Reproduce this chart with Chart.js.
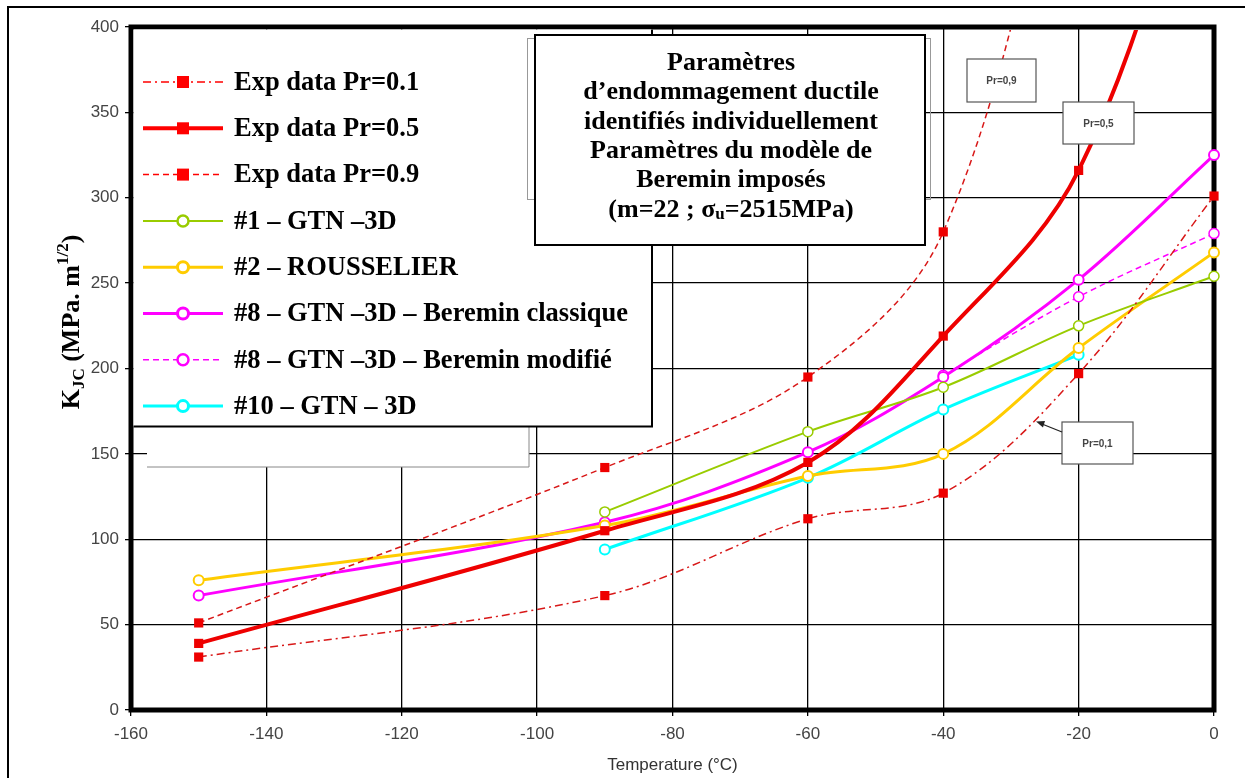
<!DOCTYPE html>
<html>
<head>
<meta charset="utf-8">
<script src="https://cdn.jsdelivr.net/npm/chart.js@4.4.1/dist/chart.umd.min.js"></script>
<style>
html, body { margin: 0; padding: 0; background: #fff; }
#wrap { position: relative; width: 1245px; height: 778px; }
</style>
</head>
<body>
<div id="wrap"><canvas id="kjc" width="1245" height="778"></canvas></div>
<script>
// temperatures (°C) where the curves have points
const temps = [-150, -90, -60, -40, -20, 0];

// K_JC values (MPa.m^1/2), null = no point; values > 400 continue the curve past the top
const expPr01 = [31, 67, 112, 127, 197, 301];
const expPr05 = [39, 105, 145, 219, 316, 540];
const expPr09 = [51, 142, 195, 280, 560, null];
const gtn1 = [null, 116, 163, 189, 225, 254];
const rousselier = [76, 108, 137, 150, 212, 268];
const bereminClassique = [67, 110, 151, 195, 252, 325];
const bereminModifie = [null, null, null, 196, 242, 279];
const gtn10 = [null, 94, 136, 176, 208, null];

const yTicks = [0, 50, 100, 150, 200, 250, 300, 350, 400];
const xTicks = [-160, -140, -120, -100, -80, -60, -40, -20, 0];

const serif = '"Liberation Serif", "Times New Roman", serif';
const sans = '"Liberation Sans", Arial, sans-serif';

function pts(vals) {
	let out = [];
	for (let i = 0; i < temps.length; i++) {
		if (vals[i] !== null) out.push({x: temps[i], y: vals[i]});
	}
	return out;
}

function series(label, vals, s) {
	return {
		label: label,
		data: pts(vals),
		borderColor: s.color,
		borderWidth: s.width,
		borderDash: s.dash || [],
		tension: 0.35,
		pointStyle: s.style,
		pointRadius: ctx => (ctx.raw && ctx.raw.y > 400 ? 0 : s.radius),
		pointBorderWidth: s.pbw,
		pointBackgroundColor: s.fill,
		pointBorderColor: s.pcolor || s.color,
		legendColor: s.lcolor || s.color,
		clip: {left: 12, right: 12, bottom: 12, top: -3}
	};
}

const datasets = [
	series('Exp data Pr=0.1', expPr01, {color: '#d81818', lcolor: '#ff0000', width: 1.5, dash: [8, 4, 2, 4], style: 'rect', radius: 6.5, pbw: 0, fill: '#ee0000', pcolor: '#ee0000'}),
	series('Exp data Pr=0.5', expPr05, {color: '#ee0000', lcolor: '#ff0000', width: 4, style: 'rect', radius: 6.5, pbw: 0, fill: '#ee0000', pcolor: '#ee0000'}),
	series('Exp data Pr=0.9', expPr09, {color: '#d81818', lcolor: '#ff0000', width: 1.5, dash: [6, 4], style: 'rect', radius: 6.5, pbw: 0, fill: '#ee0000', pcolor: '#ee0000'}),
	series('#1 – GTN –3D', gtn1, {color: '#99cc00', width: 2, style: 'circle', radius: 5, pbw: 1.5, fill: '#fff'}),
	series('#2 – ROUSSELIER', rousselier, {color: '#ffcc00', width: 3, style: 'circle', radius: 5, pbw: 2, fill: '#fff'}),
	series('#8 – GTN –3D – Beremin classique', bereminClassique, {color: '#ff00ff', width: 3, style: 'circle', radius: 5, pbw: 2, fill: '#fff'}),
	series('#8 – GTN –3D – Beremin modifié', bereminModifie, {color: '#ff00ff', width: 1.5, dash: [6, 4], style: 'circle', radius: 5, pbw: 1.5, fill: '#fff'}),
	series('#10 – GTN – 3D', gtn10, {color: '#00ffff', width: 3, style: 'circle', radius: 5, pbw: 2, fill: '#fff'})
];

// text pieces: [text, size, baseline shift]
function drawRich(ctx, parts, x, y, align) {
	let total = 0;
	parts.forEach(p => { ctx.font = 'bold ' + p[1] + 'px ' + serif; total += ctx.measureText(p[0]).width; });
	let cx = align === 'center' ? x - total / 2 : x;
	ctx.textAlign = 'left';
	parts.forEach(p => {
		ctx.font = 'bold ' + p[1] + 'px ' + serif;
		ctx.fillText(p[0], cx, y + p[2]);
		cx += ctx.measureText(p[0]).width;
	});
}

function prBox(ctx, x, y, w, h, txt) {
	ctx.fillStyle = '#fff';
	ctx.fillRect(x, y, w, h);
	ctx.strokeStyle = '#555';
	ctx.lineWidth = 1.2;
	ctx.strokeRect(x, y, w, h);
	ctx.fillStyle = '#444';
	ctx.font = 'bold 10px ' + sans;
	ctx.textAlign = 'center';
	ctx.textBaseline = 'middle';
	ctx.fillText(txt, x + w / 2, y + h / 2 + 1);
}

const frame = {
	id: 'frame',
	beforeDatasetsDraw(chart) {
		const {ctx, chartArea: a} = chart;
		ctx.save();
		ctx.strokeStyle = '#000';
		ctx.lineWidth = 5;
		ctx.strokeRect(a.left, a.top, a.right - a.left, a.bottom - a.top);
		ctx.restore();
	},
	afterDatasetsDraw(chart) {
		const ctx = chart.ctx;
		ctx.save();
		// box left behind the legend
		ctx.fillStyle = '#fff';
		ctx.fillRect(147, 40, 382, 427);
		ctx.strokeStyle = '#888';
		ctx.lineWidth = 1;
		ctx.beginPath();
		ctx.moveTo(529, 40); ctx.lineTo(529, 467); ctx.lineTo(147, 467);
		ctx.stroke();

		// legend
		ctx.fillStyle = '#fff';
		ctx.fillRect(133.5, 29.5, 519, 397);
		ctx.strokeStyle = '#000';
		ctx.lineWidth = 2;
		ctx.beginPath();
		ctx.moveTo(133.5, 426.5); ctx.lineTo(652, 426.5); ctx.lineTo(652, 29.5);
		ctx.stroke();
		chart.data.datasets.forEach((d, i) => {
			const y = 82 + i * 46.3;
			ctx.save();
			ctx.strokeStyle = d.legendColor;
			ctx.lineWidth = d.borderWidth;
			ctx.setLineDash(d.borderDash);
			ctx.beginPath();
			ctx.moveTo(143, y); ctx.lineTo(223, y);
			ctx.stroke();
			ctx.setLineDash([]);
			if (d.pointStyle === 'rect') {
				ctx.fillStyle = '#ff0000';
				ctx.fillRect(177, y - 6, 12, 12);
			} else {
				ctx.fillStyle = '#fff';
				ctx.strokeStyle = d.legendColor;
				ctx.lineWidth = d.pointBorderWidth + 1;
				ctx.beginPath();
				ctx.arc(183, y, 5.5, 0, Math.PI * 2);
				ctx.fill();
				ctx.stroke();
			}
			ctx.restore();
			ctx.fillStyle = '#000';
			ctx.font = 'bold 26.5px ' + serif;
			ctx.textAlign = 'left';
			ctx.textBaseline = 'middle';
			ctx.fillText(d.label, 234, y + 1);
		});

		// box behind the text box
		ctx.strokeStyle = '#999';
		ctx.lineWidth = 1;
		ctx.strokeRect(527.5, 38.5, 403, 161);
		// text box
		ctx.fillStyle = '#fff';
		ctx.fillRect(535, 35, 390, 210);
		ctx.strokeStyle = '#000';
		ctx.lineWidth = 2;
		ctx.strokeRect(535, 35, 390, 210);
		ctx.fillStyle = '#000';
		ctx.textBaseline = 'middle';
		const lines = ['Paramètres', 'd’endommagement ductile', 'identifiés individuellement', 'Paramètres du modèle de', 'Beremin imposés'];
		lines.forEach((t, i) => drawRich(ctx, [[t, 26, 0]], 731, 63 + i * 29.4, 'center'));
		drawRich(ctx, [['(m=22 ; σ', 26, 0], ['u', 17, 5], ['=2515MPa)', 26, 0]], 731, 63 + 5 * 29.4, 'center');

		// probability labels
		prBox(ctx, 967, 59, 69, 43, 'Pr=0,9');
		prBox(ctx, 1063, 102, 71, 42, 'Pr=0,5');
		prBox(ctx, 1062, 422, 71, 42, 'Pr=0,1');
		ctx.strokeStyle = '#222';
		ctx.fillStyle = '#222';
		ctx.lineWidth = 1.2;
		ctx.beginPath();
		ctx.moveTo(1062, 432); ctx.lineTo(1042, 424);
		ctx.stroke();
		ctx.beginPath();
		ctx.moveTo(1036, 421.5); ctx.lineTo(1045, 421); ctx.lineTo(1043, 427.5);
		ctx.closePath();
		ctx.fill();
		ctx.restore();
	},
	afterDraw(chart) {
		const ctx = chart.ctx;
		ctx.save();
		// outer page frame
		ctx.strokeStyle = '#000';
		ctx.lineWidth = 2;
		ctx.beginPath();
		ctx.moveTo(8, 778); ctx.lineTo(8, 7); ctx.lineTo(1245, 7);
		ctx.stroke();
		// y axis title with sub/superscript
		ctx.translate(79, 322);
		ctx.rotate(-Math.PI / 2);
		ctx.fillStyle = '#000';
		ctx.textBaseline = 'alphabetic';
		drawRich(ctx, [['K', 26, 0], ['JC', 17, 5], [' (MPa. m', 26, 0], ['1/2', 17, -11], [')', 26, 0]], 0, 0, 'center');
		ctx.restore();
	}
};

new Chart(document.getElementById('kjc'), {
	type: 'line',
	data: {datasets: datasets},
	options: {
		responsive: false,
		animation: false,
		devicePixelRatio: 1,
		layout: {padding: {left: 0, top: 27, right: 31, bottom: 0}},
		plugins: {legend: {display: false}, tooltip: {enabled: false}},
		scales: {
			x: {
				type: 'linear',
				min: -160,
				max: 0,
				afterBuildTicks: s => { s.ticks = xTicks.map(v => ({value: v})); },
				afterFit: s => { s.height = 68; },
				border: {display: false},
				grid: {color: '#000', lineWidth: 1.3, tickLength: 6},
				ticks: {color: '#444', padding: 8, maxRotation: 0, font: {family: sans, size: 17}},
				title: {display: true, text: 'Temperature (°C)', color: '#333', padding: {top: 0, bottom: 2}, font: {family: sans, size: 17}}
			},
			y: {
				min: 0,
				max: 400,
				afterBuildTicks: s => { s.ticks = yTicks.map(v => ({value: v})); },
				afterFit: s => { s.width = 131; },
				border: {display: false},
				grid: {color: '#000', lineWidth: 1.3, tickLength: 6},
				ticks: {color: '#444', padding: 6, font: {family: sans, size: 17}}
			}
		}
	},
	plugins: [frame]
});
</script>
</body>
</html>
